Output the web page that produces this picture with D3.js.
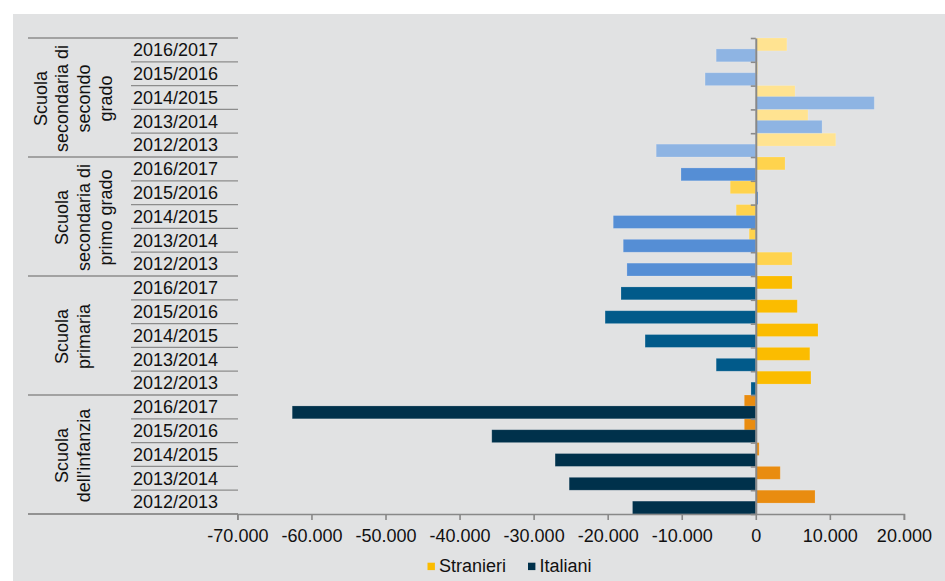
<!DOCTYPE html>
<html>
<head>
<meta charset="utf-8">
<script src="https://cdn.jsdelivr.net/npm/d3@7"></script>
<style>
  html, body { margin: 0; padding: 0; background: #ffffff; }
  svg { display: block; font-family: "Liberation Sans", Arial, sans-serif; }
</style>
</head>
<body>
<svg id="chart" width="945" height="581"></svg>
<script>
// School years, listed top to bottom inside each school level
const years = ["2016/2017", "2015/2016", "2014/2015", "2013/2014", "2012/2013"];

// School levels, with their wrapped label lines and the first line slot used
const levels = ["sec2", "sec1", "prim", "inf"];
const levelLabels = [
  ["Scuola", "secondaria di", "secondo", "grado"],
  ["Scuola", "secondaria di", "primo grado"],
  ["Scuola", "primaria"],
  ["Scuola", "dell'infanzia"]
];
const levelLabelSlot = [0, 1, 1, 1];

// Change in pupils, foreign (Stranieri) and Italian (Italiani), per level
const stranieriSec2 = [4200, 250, 5300, 7050, 10800];
const italianiSec2  = [-5350, -6850, 16000, 8950, -13450];
const stranieriSec1 = [3950, -3450, -2650, -900, 4900];
const italianiSec1  = [-10100, 300, -19250, -17900, -17400];
const stranieriPrim = [4900, 5600, 8400, 7300, 7450];
const italianiPrim  = [-18200, -20350, -14950, -5350, -650];
const stranieriInf  = [-1550, -1550, 450, 3300, 8000];
const italianiInf   = [-62600, -35650, -27100, -25200, -16650];

const stranieriByLevel = [stranieriSec2, stranieriSec1, stranieriPrim, stranieriInf];
const italianiByLevel  = [italianiSec2, italianiSec1, italianiPrim, italianiInf];

// Colour shades per level (Stranieri, Italiani)
const stranieriColors = ["#ffe391", "#ffd34d", "#fbbc00", "#e98c10"];
const italianiColors  = ["#8eb4e3", "#558ed5", "#015a8a", "#00314b"];

// Axis ticks
const xTicks = [-70000, -60000, -50000, -40000, -30000, -20000, -10000, 0, 10000, 20000];

// Legend entries
const legendNames  = ["Stranieri", "Italiani"];
const legendColors = ["#fbbc00", "#00314b"];

// ---------------------------------------------------------------------------
const svg = d3.select("#chart");
const W = 945, H = 581;

// background panel
svg.append("rect").attr("x", 13).attr("y", 14).attr("width", W - 13).attr("height", H - 14)
  .attr("fill", "#e1e2e3");

const rows = [];
levels.forEach((lv, li) => {
  years.forEach((yr, yi) => {
    rows.push({
      key: lv + "|" + yr, level: li, year: yr,
      s: stranieriByLevel[li][yi], i: italianiByLevel[li][yi]
    });
  });
});

const x = d3.scaleLinear().domain([-70000, 20000]).range([237.4, 903.9]);
const yIdx = d3.scaleLinear().domain([0, rows.length]).range([38, 514]);
const y = d3.scaleBand().domain(rows.map(d => d.key)).range([38, 514]).padding(0);
const bw = y.bandwidth();
const barH = bw / 1.85;           // two bars per row with a slight overlap

const fmt = d3.formatLocale({ decimal: ",", thousands: ".", grouping: [3], currency: ["", ""], minus: "-" }).format(",d");

// category table lines on the left
const lineColor = "#8c8c8c";
const table = svg.append("g");
d3.range(rows.length + 1).forEach(k => {
  const isGroup = k % years.length === 0;
  table.append("line")
    .attr("x1", isGroup ? 28 : 131).attr("x2", 238)
    .attr("y1", yIdx(k)).attr("y2", yIdx(k))
    .attr("stroke", lineColor).attr("stroke-width", isGroup ? 1.6 : 1.3);
});
table.append("line").attr("x1", 28).attr("x2", 238).attr("y1", 514).attr("y2", 514)
  .attr("stroke", lineColor).attr("stroke-width", 1.6);

// bars: Stranieri in the upper half of each row, Italiani below and on top
const bars = svg.append("g");
bars.selectAll("rect.s").data(rows).join("rect")
  .attr("class", "s")
  .attr("x", d => x(Math.min(0, d.s)))
  .attr("width", d => Math.abs(x(d.s) - x(0)))
  .attr("y", d => y(d.key))
  .attr("height", barH)
  .attr("fill", d => stranieriColors[d.level])
  .attr("stroke", "rgba(255,255,255,0.18)").attr("stroke-width", 0.8);

bars.selectAll("rect.i").data(rows).join("rect")
  .attr("class", "i")
  .attr("x", d => x(Math.min(0, d.i)))
  .attr("width", d => Math.abs(x(d.i) - x(0)))
  .attr("y", d => y(d.key) + bw - barH)
  .attr("height", barH)
  .attr("fill", d => italianiColors[d.level])
  .attr("stroke", "rgba(255,255,255,0.22)").attr("stroke-width", 0.8);

// vertical category axis at zero, with ticks on row boundaries
const yAxis = svg.append("g").attr("transform", `translate(${x(0)},0)`)
  .call(d3.axisLeft(yIdx).ticks(rows.length).tickSize(5).tickSizeOuter(0).tickFormat(""));
yAxis.select(".domain").attr("stroke", "#888888").attr("stroke-width", 2);
yAxis.selectAll(".tick line").attr("stroke", "#8a8a8a").attr("stroke-width", 1.6);

// horizontal value axis
const xAxis = svg.append("g").attr("transform", "translate(0,514)")
  .call(d3.axisBottom(x).tickValues(xTicks).tickSize(6).tickSizeOuter(6).tickPadding(9).tickFormat(fmt));
xAxis.select(".domain").attr("stroke", "#888888").attr("stroke-width", 1.6);
xAxis.selectAll(".tick line").attr("stroke", "#888888").attr("stroke-width", 1.6);
xAxis.selectAll(".tick text")
  .attr("font-size", 18).attr("fill", "#111111")
  .attr("font-family", "'Liberation Sans', Arial, sans-serif");

// year labels
svg.append("g").selectAll("text").data(rows).join("text")
  .attr("x", 133)
  .attr("y", d => y(d.key) + bw / 2 + 6.3)
  .attr("font-size", 18).attr("fill", "#111111")
  .text(d => d.year);

// rotated level labels
const slotX = [46.7, 68.3, 89.9, 111.5];
levelLabels.forEach((lines, li) => {
  const cy = (yIdx(li * years.length) + yIdx((li + 1) * years.length)) / 2 + 1;
  lines.forEach((ln, k) => {
    const bx = slotX[levelLabelSlot[li] + k];
    svg.append("text")
      .attr("transform", `translate(${bx},${cy}) rotate(-90)`)
      .attr("text-anchor", "middle")
      .attr("font-size", 18).attr("fill", "#111111")
      .text(ln);
  });
});

// legend
const legendX = [427.5, 528];
const legendG = svg.append("g");
legendNames.forEach((name, k) => {
  legendG.append("rect").attr("x", legendX[k]).attr("y", 562.7)
    .attr("width", 7.4).attr("height", 7.4).attr("fill", legendColors[k]);
  legendG.append("text").attr("x", legendX[k] + 11.5).attr("y", 571.7)
    .attr("font-size", 18).attr("fill", "#111111").text(name);
});
</script>
</body>
</html>
